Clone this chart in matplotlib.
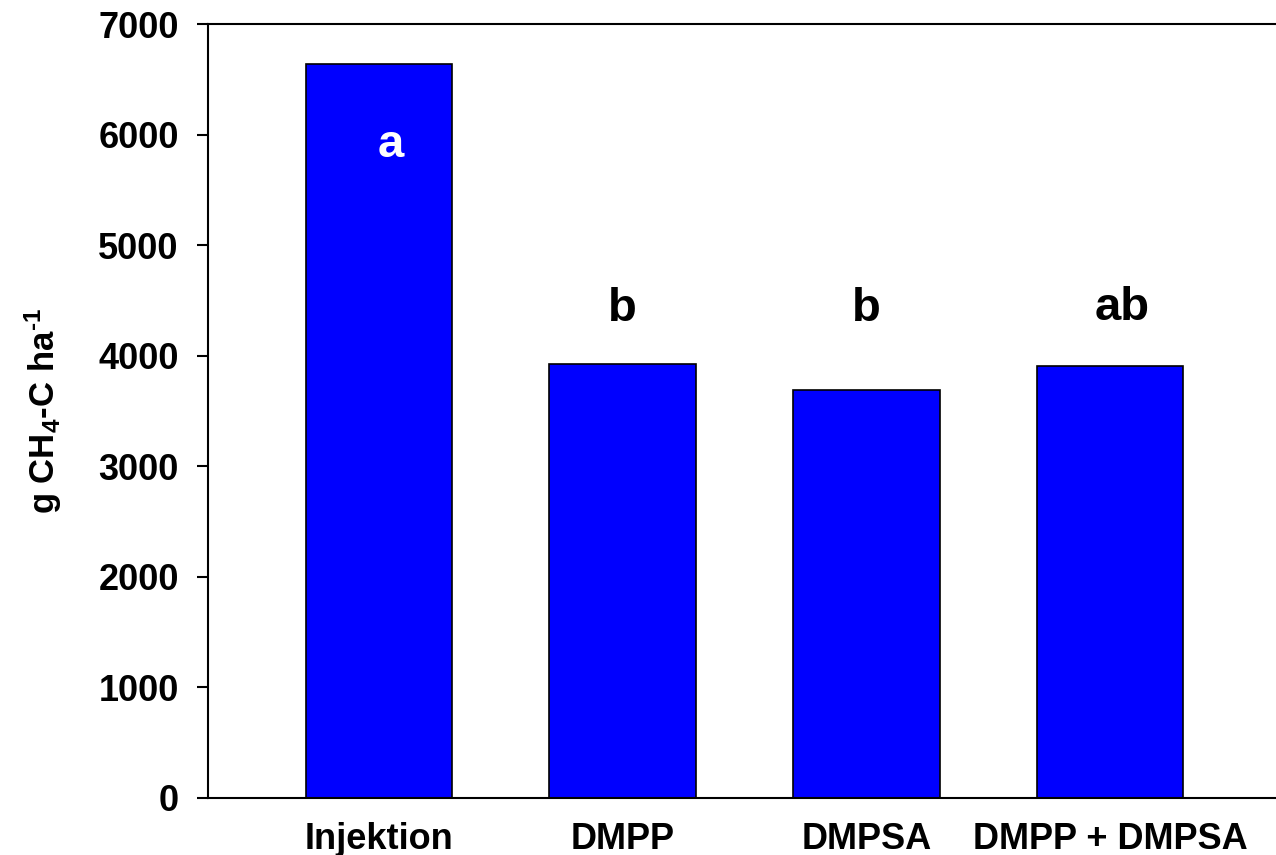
import matplotlib.pyplot as plt
import matplotlib as mpl

mpl.rcParams['font.family'] = ['Liberation Sans', 'DejaVu Sans']
mpl.rcParams['font.weight'] = 'bold'
mpl.rcParams['mathtext.fontset'] = 'custom'
mpl.rcParams['mathtext.rm'] = 'Liberation Sans:bold'
mpl.rcParams['mathtext.bf'] = 'Liberation Sans:bold'
mpl.rcParams['mathtext.it'] = 'Liberation Sans:bold'

# Daten
categories = ['Injektion', 'DMPP', 'DMPSA', 'DMPP + DMPSA']
values = [6640, 3930, 3690, 3910]
letters = ['a', 'b', 'b', 'ab']
letter_y = [5800, 4315, 4315, 4320]
letter_colors = ['white', 'black', 'black', 'black']
letter_dx = [0.05, 0.0, 0.0, 0.05]

fig = plt.figure(figsize=(12.76, 8.55), dpi=100)
ax = fig.add_axes([0.163, 0.0667, 0.837, 0.905])

x = range(len(categories))
ax.bar(x, values, width=0.6, color='#0000ff', edgecolor='black', linewidth=1.2)

for i in x:
    ax.text(i + letter_dx[i], letter_y[i], letters[i], ha='center', va='baseline',
            fontsize=34, fontweight='bold', color=letter_colors[i])

ax.set_xlim(-0.70, 3.68)
ax.set_ylim(0, 7000)
ax.set_yticks(range(0, 7001, 1000))
ax.set_xticks(list(x))
ax.set_xticklabels(categories)

ax.spines['right'].set_visible(False)
for s in ['left', 'bottom', 'top']:
    ax.spines[s].set_linewidth(1.5)

ax.tick_params(axis='y', direction='out', length=8, width=1.5, labelsize=26, pad=13)
ax.tick_params(axis='x', length=0, labelsize=26, pad=17)

ax.set_ylabel('g CH$_\\mathrm{4}$-C ha$^{\\mathrm{\\text{-}1}}$', fontsize=25,
              fontweight='bold', labelpad=25)

fig.savefig('out.png', dpi=100)
